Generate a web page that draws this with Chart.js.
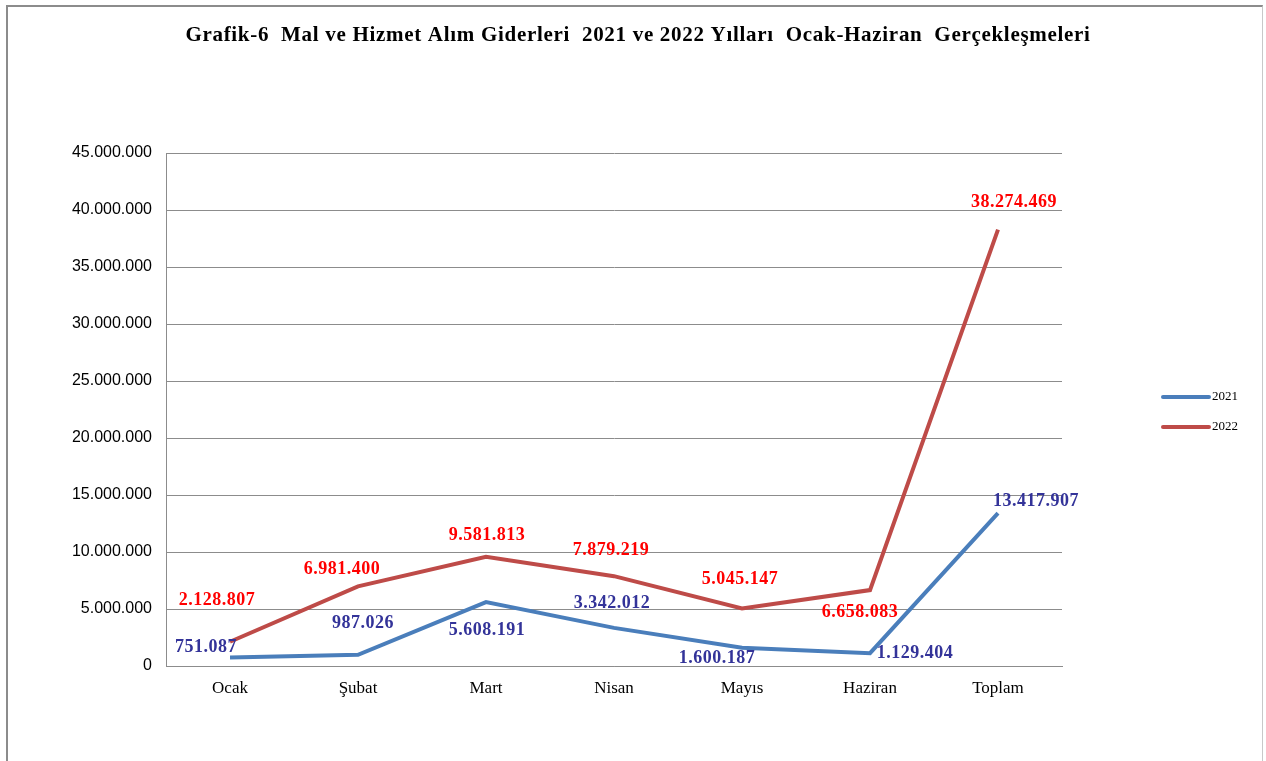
<!DOCTYPE html>
<html>
<head>
<meta charset="utf-8">
<script src="https://cdn.jsdelivr.net/npm/chart.js@4"></script>
<style>
  html, body { margin: 0; padding: 0; background: #fff; overflow: hidden; }
  #frame { position: absolute; left: 6px; top: 5px; width: 1254px; height: 800px;
           border-left: 2px solid #8c8c8c; border-top: 2px solid #8c8c8c; border-right: 1px solid #c8c8c8; }
  #wrap { position: absolute; left: 0; top: 0; width: 1266px; height: 761px; }
</style>
</head>
<body>
<div id="frame"></div>
<div id="wrap"><canvas id="chart" width="1266" height="761"></canvas></div>
<script>
// veriler
const categories = ['Ocak', 'Şubat', 'Mart', 'Nisan', 'Mayıs', 'Haziran', 'Toplam'];
const values2021 = [751087, 987026, 5608191, 3342012, 1600187, 1129404, 13417907];
const values2022 = [2128807, 6981400, 9581813, 7879219, 5045147, 6658083, 38274469];
const seriesNames = ['2021', '2022'];
const yMax = 45000000;
const yStep = 5000000;
const titleText = 'Grafik-6  Mal ve Hizmet Alım Giderleri  2021 ve 2022 Yılları  Ocak-Haziran  Gerçekleşmeleri';

// etiket kaydırmaları (nokta merkezine göre px)
const labelOffsets2021 = [[-24, -10], [5, -31], [1, 28], [-2, -25], [-25, 11], [45, 0], [38, -12]];
const labelOffsets2022 = [[-13, -41], [-16, -17], [1, -21], [-3, -26], [-2, -29], [-10, 22], [16, -27]];

const fmt = v => String(v).replace(/\B(?=(\d{3})+(?!\d))/g, '.');

const serif = '"Liberation Serif", "Times New Roman", serif';
const sans = '"Liberation Sans", Arial, sans-serif';

const extrasPlugin = {
  id: 'extras',
  afterDatasetsDraw(chart) {
    const ctx = chart.ctx;
    ctx.save();
    ctx.font = 'bold 18px ' + serif;
    ctx.letterSpacing = '0.5px';
    ctx.textAlign = 'center';
    ctx.textBaseline = 'middle';
    chart.data.datasets.forEach((ds, di) => {
      const meta = chart.getDatasetMeta(di);
      meta.data.forEach((pt, i) => {
        const off = ds.labelOffsets[i];
        ctx.fillStyle = ds.labelColor;
        ctx.fillText(fmt(ds.data[i]), pt.x + off[0], pt.y + off[1]);
      });
    });
    ctx.restore();
  },
  afterDraw(chart) {
    const ctx = chart.ctx;
    ctx.save();
    // başlık
    ctx.fillStyle = '#000';
    ctx.font = 'bold 21px ' + serif;
    ctx.letterSpacing = '0.7px';
    ctx.textAlign = 'center';
    ctx.textBaseline = 'middle';
    ctx.fillText(titleText, 638, 36);
    // lejant
    ctx.letterSpacing = '0px';
    ctx.font = '13px ' + serif;
    ctx.textAlign = 'left';
    chart.data.datasets.forEach((ds, i) => {
      const y = 397 + i * 30;
      ctx.strokeStyle = ds.borderColor;
      ctx.lineWidth = 4;
      ctx.lineCap = 'round';
      ctx.beginPath();
      ctx.moveTo(1163, y);
      ctx.lineTo(1209, y);
      ctx.stroke();
      ctx.fillStyle = '#000';
      ctx.fillText(ds.label, 1212, y);
    });
    ctx.restore();
  }
};

new Chart(document.getElementById('chart'), {
  type: 'line',
  data: {
    labels: categories,
    datasets: [
      {
        label: seriesNames[0],
        data: values2021,
        borderColor: '#4a7ebb',
        borderWidth: 4,
        pointRadius: 0,
        tension: 0,
        labelColor: '#333399',
        labelOffsets: labelOffsets2021
      },
      {
        label: seriesNames[1],
        data: values2022,
        borderColor: '#be4b48',
        borderWidth: 4,
        pointRadius: 0,
        tension: 0,
        labelColor: '#ff0000',
        labelOffsets: labelOffsets2022
      }
    ]
  },
  options: {
    responsive: false,
    animation: false,
    layout: { padding: { left: 0, top: 153, right: 204, bottom: 50 } },
    plugins: {
      legend: { display: false },
      title: { display: false },
      tooltip: { enabled: false }
    },
    scales: {
      x: {
        offset: true,
        grid: { display: false, drawTicks: false },
        border: { color: '#8c8c8c', width: 1 },
        ticks: { color: '#000', font: { family: serif, size: 17 }, padding: 12 },
        afterFit: s => { s.height = 45; }
      },
      y: {
        min: 0,
        max: yMax,
        grid: { color: '#8c8c8c', lineWidth: 1, drawTicks: false },
        border: { color: '#8c8c8c', width: 1 },
        ticks: {
          stepSize: yStep,
          color: '#000',
          font: { family: sans, size: 16 },
          padding: 14,
          callback: v => fmt(v)
        },
        afterFit: s => { s.width = 166; }
      }
    }
  },
  plugins: [extrasPlugin]
});
</script>
</body>
</html>
